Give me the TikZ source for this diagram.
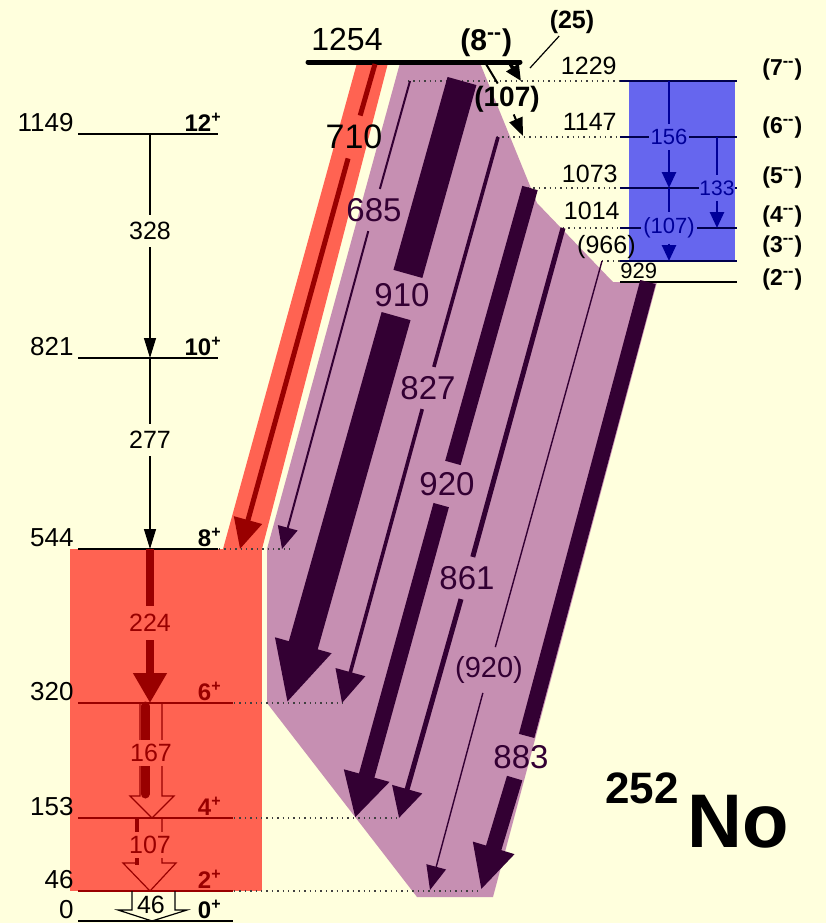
\documentclass[tikz,border=0pt]{standalone}
\usepackage{fontspec}
\setmainfont{Liberation Sans}
\usetikzlibrary{arrows.meta}
\definecolor{bg}{RGB}{255,255,221}
\definecolor{gsb}{RGB}{255,99,82}
\definecolor{gsbdark}{RGB}{153,0,0}
\definecolor{kband}{RGB}{198,143,178}
\definecolor{kdark}{RGB}{51,0,51}
\definecolor{oband}{RGB}{102,102,238}
\definecolor{odark}{RGB}{0,0,153}
\newcommand{\fs}[1]{\fontsize{#1}{#1}\selectfont}
\newcommand{\jpos}[1]{#1\textsuperscript{+}}
\newcommand{\jneg}[1]{(#1\textsuperscript{-{}-})}
\tikzset{
  lvl/.style={line width=1pt},
  dotl/.style={line width=0.7pt, dotted, black!75},
  en/.style={anchor=base east, inner sep=0pt, font=\fs{13}},
  jp/.style={anchor=base east, inner sep=0pt, font=\bfseries\fs{12}},
  jm/.style={anchor=base west, inner sep=0pt, font=\bfseries\fs{11.5}},
  tl/.style={inner sep=#1, font=\fs{12.5}}, tl/.default=3.5pt,
  pl/.style={inner sep=4.5pt, font=\fs{16.5}, text=kdark},
  bl/.style={inner xsep=1pt, inner ysep=2.5pt, font=\fs{11}, text=odark, fill=oband},
  gam/.style n args={3}{line width=#1, -{Triangle[length=#2, width=#3]}},
}

\begin{document}
\begin{tikzpicture}[x=0.5pt, y=-0.5pt]
\fill[bg] (0,0) rectangle (826,923);
\useasboundingbox (0,0) rectangle (826,923);

% ── Bandas ──────────────────────────────────────────────────
\fill[kband] (400,63) -- (480,63) -- (537,203) -- (613,282) -- (657,282)
  -- (493,897) -- (417,897) -- (267,703) -- (267,549) -- cycle;
\fill[gsb] (357,63) -- (388,63) -- (262,549) -- (223,549) -- cycle;
\fill[gsb] (70,549) rectangle (262,891);
\fill[oband] (629,81) rectangle (735,261);

% ── Niveles, banda fundamental ──────────────────────────────
\foreach \y/\e/\j/\xr/\c in {134/1149/12/218/black, 358/821/10/218/black,
    549/544/8/218/black, 703/320/6/233/gsbdark, 818/153/4/233/gsbdark,
    891/46/2/233/gsbdark, 921/0/0/233/black} {
  \draw[lvl, \c] (78,\y) -- (\xr,\y);
  \node[en] (e\e) at (74,\y-3) {\e};
  \node[jp, text=\c] (j\j) at (222,\y-3) {\jpos{\j}};
}
\draw[dotl] (219,549) -- (290,549);
\foreach \y/\x in {703/345, 818/400, 891/482}
  \draw[dotl] (234,\y) -- (\x,\y);

% ── Niveles, bandas negativas ───────────────────────────────
\foreach \y/\x in {81/408, 137/497, 188/528, 228/563, 261/602}
  \draw[dotl] (\x,\y) -- (620,\y);
\foreach \y in {81, 137, 188, 228, 261}
  \draw[lvl, odark!50!black] (620,\y) -- (737,\y);
\draw[lvl] (620,282) -- (737,282);
\node[en, font=\fs{12.5}] (e1229) at (617,74) {1229};
\node[en, font=\fs{12.5}] (e1147) at (617,130) {1147};
\node[en, font=\fs{12.5}] (e1073) at (618,182) {1073};
\node[en, font=\fs{12.5}] (e1014) at (620,219) {1014};
\node[en, font=\fs{12.5}] (e966) at (636,253) {(966)};
\node[en, anchor=base west, font=\fs{11}] (e929) at (620,278) {929};
\node[jm] (j7m) at (762,75) {\jneg{7}};
\node[jm] (j6m) at (762,133) {\jneg{6}};
\node[jm] (j5m) at (762,183) {\jneg{5}};
\node[jm] (j4m) at (762,222) {\jneg{4}};
\node[jm] (j3m) at (762,252) {\jneg{3}};
\node[jm] (j2m) at (762,285) {\jneg{2}};

% ── Nivel 1254 ──────────────────────────────────────────────
\draw[line width=2.5pt, line cap=round] (308,62) -- (520,62);
\node[anchor=base west, inner sep=0pt, font=\fs{16}] (e1254) at (311,50) {1254};
\node[anchor=base west, inner sep=0pt, font=\bfseries\fs{15}] (j8m) at (460,50) {\jneg{8}};
\node[font=\bfseries\fs{12.5}, inner sep=1pt] (l25) at (572,22) {(25)};
\coordinate (c25) at (530,68);
\draw[line width=0.6pt] (c25) -- (l25);
\coordinate (a25) at (509,62);
\coordinate (b25) at (521,81);
\draw[gam={1.8pt}{8pt}{7pt}] (a25) -- (b25);
\node[font=\bfseries\fs{14}, inner sep=1pt] (l107t) at (507,99) {(107)};
\coordinate (a107t) at (486,64);
\coordinate (b107t) at (523,136);
\draw[gam={1pt}{9pt}{7pt}] (a107t) -- (l107t) -- (b107t);

% ── Transiciones, banda fundamental ─────────────────────────
\coordinate (a328) at (150,134);
\coordinate (b328) at (150,358);
\node[tl] (l328) at (150,231) {328};
\draw[gam={0.6pt}{10pt}{6pt}] (a328) -- (l328) -- (b328);
\coordinate (a277) at (150,358);
\coordinate (b277) at (150,549);
\node[tl] (l277) at (150,440) {277};
\draw[gam={0.6pt}{10pt}{6pt}] (a277) -- (l277) -- (b277);
\coordinate (a224) at (150,549);
\coordinate (b224) at (150,703);
\node[tl=4pt, text=gsbdark] (l224) at (150,623) {224};
\draw[gsbdark, gam={4pt}{15pt}{16pt}] (a224) -- (l224) -- (b224);

% conversion (hueco) + gamma
\draw[gsbdark, line width=0.6pt] (140,703) -- (140,796) -- (130,796) -- (152,818)
  -- (174,796) -- (162,796) -- (162,703);
\draw[gsbdark, line width=4.5pt, line cap=round] (145,706) -- (145,794);
\node[tl=2pt, text=gsbdark, fill=gsb] (l167) at (151,753) {167};
\draw[gsbdark, line width=0.6pt] (136,818) -- (136,863) -- (123,863) -- (150,891)
  -- (176,863) -- (162,863) -- (162,818);
\draw[gsbdark, line width=2pt] (137,818) -- (137,865);
\node[tl=2pt, text=gsbdark, fill=gsb] (l107) at (150,845) {107};
\draw[line width=0.6pt] (132,891) -- (132,910) -- (118,910) -- (152,921)
  -- (187,910) -- (175,910) -- (175,891);
\node[tl=0pt] (l46) at (151,905) {46};

% ── Transiciones, banda K ───────────────────────────────────
\coordinate (a710) at (375,64);
\coordinate (b710) at (240,549);
\node[pl, text=black, font=\fs{17}] (l710) at (354,137) {710};
\draw[gsbdark, gam={2.5pt}{15pt}{14pt}] (a710) -- (l710) -- (b710);

\coordinate (a685) at (410,81);
\coordinate (b685) at (282,549);
\node[pl] (l685) at (374,210) {685};
\draw[kdark, gam={1pt}{11pt}{10pt}] (a685) -- (l685) -- (b685);

\coordinate (a910) at (462,81);
\coordinate (b910) at (287,703);
\node[pl] (l910) at (402,295) {910};
\draw[kdark, gam={15pt}{30pt}{27pt}] (a910) -- (l910) -- (b910);

\coordinate (a827) at (498,137);
\coordinate (b827) at (342,703);
\node[pl] (l827) at (428,388) {827};
\draw[kdark, gam={1.8pt}{16pt}{15pt}] (a827) -- (l827) -- (b827);

\coordinate (a920) at (530,188);
\coordinate (b920) at (355,818);
\node[pl] (l920) at (447,484) {920};
\draw[kdark, gam={8pt}{22pt}{22pt}] (a920) -- (l920) -- (b920);

\coordinate (a861) at (563,228);
\coordinate (b861) at (399,818);
\node[pl] (l861) at (467,578) {861};
\draw[kdark, gam={2.5pt}{15pt}{15pt}] (a861) -- (l861) -- (b861);

\coordinate (a920b) at (602,261);
\coordinate (b920b) at (430,890);
\node[pl, font=\fs{14.5}] (l920b) at (489,670) {(920)};
\draw[kdark, gam={0.7pt}{12pt}{10pt}] (a920b) -- (l920b) -- (b920b);

\coordinate (a883) at (648,282);
\coordinate (b883) at (481,890);
\node[pl] (l883) at (521,757) {883};
\draw[kdark, gam={8pt}{22pt}{20pt}] (a883) -- (l883) -- (b883);

% ── Transiciones, banda azul ────────────────────────────────
\coordinate (a156) at (669,81);
\coordinate (b156) at (669,188);
\node[bl] (l156) at (669,137) {156};
\draw[odark, gam={1.3pt}{8pt}{7pt}] (a156) -- (l156) -- (b156);
\coordinate (a107b) at (669,188);
\coordinate (b107b) at (669,261);
\node[bl] (l107b) at (669,228) {(107)};
\draw[odark, gam={1.3pt}{8pt}{7pt}] (a107b) -- (l107b) -- (b107b);
\coordinate (a133) at (717,137);
\coordinate (b133) at (717,228);
\node[bl, inner xsep=0pt, font=\fs{10.5}] (l133) at (717,188) {133};
\draw[odark, gam={1.3pt}{8pt}{7pt}] (a133) -- (l133) -- (b133);

% ── Nucleo ──────────────────────────────────────────────────
\node[anchor=base west, inner sep=0pt, font=\bfseries\fs{22}] (mass) at (605,803) {252};
\node[anchor=base west, inner sep=0pt, font=\bfseries\fs{38}] (elem) at (687,847) {No};

\end{tikzpicture}
\end{document}
